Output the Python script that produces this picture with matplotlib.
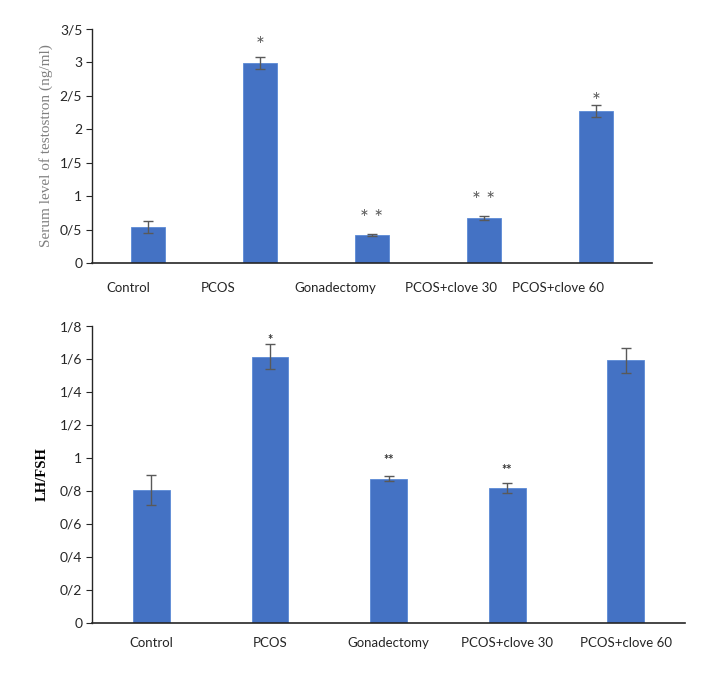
import numpy as np
import matplotlib.pyplot as plt

groups = ['Control', 'PCOS', 'Gonadectomy', 'PCOS+clove 30', 'PCOS+clove 60']

testo = [0.54, 2.99, 0.42, 0.67, 2.27]
testo_err = [0.09, 0.09, 0.015, 0.03, 0.09]
testo_sig = ['', '*', '* *', '* *', '*']
testo_ticks = [0, 0.5, 1, 1.5, 2, 2.5, 3, 3.5]

lhfsh = [0.805, 1.614, 0.874, 0.819, 1.592]
lhfsh_err = [0.09, 0.075, 0.014, 0.03, 0.077]
lhfsh_sig = ['', '*', '**', '**', '']
lhfsh_ticks = [0, 0.2, 0.4, 0.6, 0.8, 1, 1.2, 1.4, 1.6, 1.8]

blue = '#4472C4'
errc = '#595959'
sans = ['Lato', 'DejaVu Sans']
serif = ['Liberation Serif', 'DejaVu Serif']

def fmt(v):
    # persian style decimal separator
    return ('%g' % v).replace('.', '/')

fig = plt.figure(figsize=(7.22, 6.75), dpi=100)
ax1 = fig.add_axes([0.1274, 0.6104, 0.903-0.1274, 0.957-0.6104])
ax2 = fig.add_axes([0.1274, 0.0775, 0.9488-0.1274, 0.517-0.0775])

x = np.arange(len(groups))

def setup(ax, ticks, ymax, xpad):
    ax.set_xlim(-0.5, len(groups)-0.5)
    ax.set_ylim(0, ymax)
    ax.set_yticks(ticks)
    ax.set_yticklabels([fmt(t) for t in ticks], family=sans, fontsize=10, color='#262626')
    for s in ['top', 'right']:
        ax.spines[s].set_visible(False)
    ax.spines['left'].set_color('#262626')
    ax.spines['bottom'].set_color('#262626')
    ax.spines['left'].set_linewidth(1.0)
    ax.spines['bottom'].set_linewidth(1.2)
    ax.tick_params(axis='y', length=4, width=0.8, color='#262626', pad=3)
    ax.tick_params(axis='x', length=0, pad=xpad)

# top panel
ax1.bar(x, testo, width=0.31, color=blue, edgecolor='#5b8ad6', linewidth=0.6, zorder=2)
ax1.errorbar(x, testo, yerr=testo_err, fmt='none', ecolor=errc, elinewidth=1.0, capsize=3.5, capthick=1.0, zorder=3)
setup(ax1, testo_ticks, 3.5, 14)
lab_shift = [-0.18, -0.37, -0.33, -0.29, -0.34]
ax1.set_xticks(x + np.array(lab_shift))
ax1.set_xticklabels(groups, family=sans, fontsize=9.5, color='#262626')
ax1.set_ylabel('Serum level of testostron (ng/ml)', family=serif, fontsize=11, color='#808080', labelpad=5)
sig_off1 = [0, 8, 11, 11, 2]
for i in range(len(groups)):
    if testo_sig[i]:
        ax1.annotate(testo_sig[i], (x[i], testo[i]+testo_err[i]), xytext=(0, sig_off1[i]),
                     textcoords='offset points', ha='center', va='center',
                     fontsize=15, color='#595959', family=sans)

# bottom panel
ax2.bar(x, lhfsh, width=0.31, color=blue, edgecolor='#5b8ad6', linewidth=0.6, zorder=2)
ax2.errorbar(x, lhfsh, yerr=lhfsh_err, fmt='none', ecolor=errc, elinewidth=1.0, capsize=3.5, capthick=1.0, zorder=3)
setup(ax2, lhfsh_ticks, 1.8, 10)
ax2.set_xticks(x)
ax2.set_xticklabels(groups, family=sans, fontsize=9.5, color='#262626')
ax2.set_ylabel('LH/FSH', family=serif, fontsize=10.5, fontweight='bold', color='black', labelpad=8)
sig_off2 = [0, 3, 12, 9, 0]
for i in range(len(groups)):
    if lhfsh_sig[i]:
        ax2.annotate(lhfsh_sig[i], (x[i], lhfsh[i]+lhfsh_err[i]), xytext=(0, sig_off2[i]),
                     textcoords='offset points', ha='center', va='center',
                     fontsize=9, fontweight='bold', color='#333333', family=sans)

fig.savefig('out.png', dpi=100)
